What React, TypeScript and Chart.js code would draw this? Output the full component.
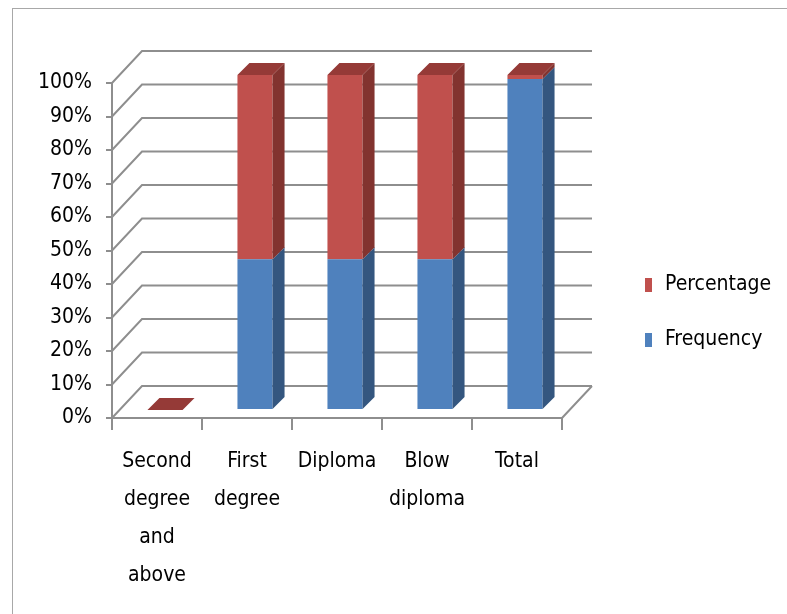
import React, { useEffect, useRef } from "react";
import { Chart, registerables } from "chart.js";

Chart.register(...registerables);

// ---- data ----
const categories: (string | string[])[] = [
  ["Second", "degree", "and", "above"],
  ["First", "degree"],
  "Diploma",
  ["Blow", "diploma"],
  "Total",
];
const frequency = [0, 45, 45, 45, 98.8];
const percentage = [0, 55, 55, 55, 1.2];
const seriesNames = ["Frequency", "Percentage"];
const yMin = 0;
const yMax = 100;
const yStep = 10;

// ---- styles ----
const frontColors = ["#4F81BD", "#C0504D"];
const sideColors = ["#34567f", "#82332f"];
const topColors = ["#6a96cc", "#953a37"];
const GRID = "#8e8e8e";
const FONT = "'Liberation Sans Narrow', 'DejaVu Sans Condensed', 'Arial Narrow', sans-serif";
const FONT_SIZE = 21;

const WALL = { dx: 30, dy: 32 };
const BAR_SHIFT = { dx: 8, dy: 8 };
const BAR_DEPTH = { dx: 12, dy: 12 };

const threeD = {
  id: "threeD",
  beforeDatasetsDraw(chart: any) {
    const { ctx, chartArea: a, scales } = chart;
    const y = scales.y;
    ctx.save();
    ctx.strokeStyle = GRID;
    ctx.lineWidth = 2;
    ctx.beginPath();
    y.ticks.forEach((t: any) => {
      const py = y.getPixelForValue(t.value);
      ctx.moveTo(a.left, py);
      ctx.lineTo(a.left + WALL.dx, py - WALL.dy);
      ctx.lineTo(a.right + WALL.dx, py - WALL.dy);
    });
    ctx.moveTo(a.right, a.bottom);
    ctx.lineTo(a.right + WALL.dx, a.bottom - WALL.dy);
    ctx.stroke();
    ctx.restore();
    ctx.save();
    ctx.translate(BAR_SHIFT.dx, -BAR_SHIFT.dy);
  },
  afterDatasetsDraw(chart: any) {
    const ctx = chart.ctx;
    const n = chart.data.datasets.length;
    chart.data.datasets.forEach((_ds: any, d: number) => {
      const meta = chart.getDatasetMeta(d);
      meta.data.forEach((el: any) => {
        const { x, y, base, width } = el.getProps(["x", "y", "base", "width"], true);
        const l = x - width / 2;
        const r = x + width / 2;
        const top = Math.min(y, base);
        const bot = Math.max(y, base);
        if (bot - top > 0.5) {
          ctx.fillStyle = sideColors[d];
          ctx.beginPath();
          ctx.moveTo(r, top);
          ctx.lineTo(r + BAR_DEPTH.dx, top - BAR_DEPTH.dy);
          ctx.lineTo(r + BAR_DEPTH.dx, bot - BAR_DEPTH.dy);
          ctx.lineTo(r, bot);
          ctx.closePath();
          ctx.fill();
        }
        if (d === n - 1) {
          ctx.fillStyle = topColors[d];
          ctx.beginPath();
          ctx.moveTo(l, top);
          ctx.lineTo(l + BAR_DEPTH.dx, top - BAR_DEPTH.dy);
          ctx.lineTo(r + BAR_DEPTH.dx, top - BAR_DEPTH.dy);
          ctx.lineTo(r, top);
          ctx.closePath();
          ctx.fill();
        }
      });
    });
    ctx.restore();
  },
  afterDraw(chart: any) {
    const { ctx, chartArea: a } = chart;
    const ds = chart.data.datasets;
    ctx.save();
    ctx.font = `${FONT_SIZE}px ${FONT}`;
    ctx.textBaseline = "middle";
    ctx.textAlign = "left";
    const order = ds.map((_: any, i: number) => i).reverse();
    order.forEach((d: number, k: number) => {
      const cx = a.right + 83;
      const cy = 285 + k * 55;
      ctx.fillStyle = ds[d].backgroundColor;
      ctx.fillRect(cx, cy - 7, 7, 14);
      ctx.fillStyle = "#000";
      ctx.fillText(ds[d].label, cx + 20, cy);
    });
    ctx.restore();
  },
};

export default function App() {
  const ref = useRef<HTMLCanvasElement | null>(null);
  useEffect(() => {
    if (!ref.current) return;
    const chart = new Chart(ref.current, {
      type: "bar",
      data: {
        labels: categories,
        datasets: [
          { label: seriesNames[0], data: frequency, backgroundColor: frontColors[0], clip: false as any },
          { label: seriesNames[1], data: percentage, backgroundColor: frontColors[1], clip: false as any },
        ],
      },
      options: {
        animation: false,
        responsive: false,
        devicePixelRatio: 1,
        layout: { padding: { top: 83, right: 225, bottom: 0, left: 0 } },
        datasets: { bar: { categoryPercentage: 1, barPercentage: 0.39 } },
        plugins: { legend: { display: false }, tooltip: { enabled: false } },
        scales: {
          x: {
            stacked: true,
            afterFit: (s: any) => {
              s.height = 196;
            },
            grid: { display: true, drawOnChartArea: false, offset: true, tickLength: 12, color: GRID, lineWidth: 2 },
            border: { display: true, color: GRID, width: 2 },
            ticks: {
              color: "#000",
              padding: 13,
              maxRotation: 0,
              autoSkip: false,
              font: { family: FONT, size: FONT_SIZE, lineHeight: 38 / FONT_SIZE },
            },
          },
          y: {
            stacked: true,
            min: yMin,
            max: yMax,
            afterFit: (s: any) => {
              s.width = 112;
            },
            grid: { display: true, drawOnChartArea: false, tickLength: 6, color: GRID, lineWidth: 2 },
            border: { display: true, color: GRID, width: 2 },
            ticks: {
              stepSize: yStep,
              color: "#000",
              padding: 14,
              callback: (v: any) => `${v}%`,
              font: { family: FONT, size: FONT_SIZE },
            },
          },
        },
      },
      plugins: [threeD],
    });
    return () => chart.destroy();
  }, []);
  return (
    <div style={{ position: "absolute", left: 0, top: 0, width: 787, height: 614, background: "#fff" }}>
      <div
        style={{
          position: "absolute",
          left: 12,
          top: 8,
          width: 775,
          height: 606,
          borderTop: "1px solid #a8a8a8",
          borderLeft: "1px solid #a8a8a8",
          boxSizing: "border-box",
        }}
      />
      <canvas ref={ref} width={787} height={614} style={{ position: "absolute", left: 0, top: 0 }} />
    </div>
  );
}
